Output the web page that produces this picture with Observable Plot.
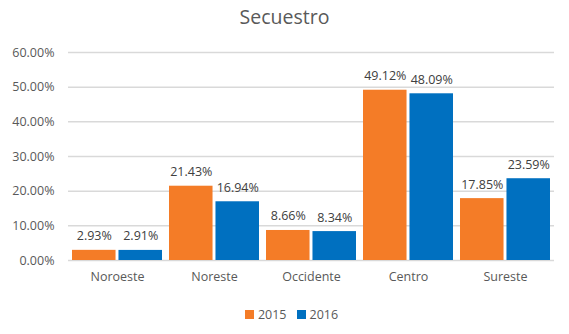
<!DOCTYPE html>
<html>
<head>
<meta charset="utf-8">
<script src="https://cdn.jsdelivr.net/npm/d3@7"></script>
<script src="https://cdn.jsdelivr.net/npm/@observablehq/plot@0.6"></script>
<style>
  body { margin: 0; background: #fff; font-family: "Open Sans", sans-serif; color: #595959; }
  #wrap { width: 569px; height: 334px; position: relative; }
  #title { height: 34px; line-height: 34px; text-align: center; font-size: 19.5px; color: #595959; }
  #legend { display: flex; justify-content: center; align-items: center; gap: 10px; font-size: 12.5px; color: #595959; height: 36px; padding-left: 14px; }
  .sw { display: inline-block; width: 9px; height: 9px; margin-right: 4px; }
</style>
</head>
<body>
<div id="wrap">
  <div id="title">Secuestro</div>
  <div id="chart"></div>
  <div id="legend"></div>
</div>
<script>
const regions = ["Noroeste", "Noreste", "Occidente", "Centro", "Sureste"];
const years = ["2015", "2016"];
const values2015 = [2.93, 21.43, 8.66, 49.12, 17.85];
const values2016 = [2.91, 16.94, 8.34, 48.09, 23.59];
const yTicks = [0, 10, 20, 30, 40, 50, 60];
const colors = ["#F47C27", "#0070C0"];

const data = [];
regions.forEach((r, i) => {
  data.push({region: r, year: years[0], value: values2015[i]});
  data.push({region: r, year: years[1], value: values2016[i]});
});
const d15 = data.filter(d => d.year === years[0]);
const d16 = data.filter(d => d.year === years[1]);
const fmt = v => v.toFixed(2) + "%";

const width = 569, height = 262;
const marginLeft = 68, marginRight = 15, paddingInner = 0.07, paddingOuter = 0.02;
const step = (width - marginLeft - marginRight) / (regions.length - paddingInner + 2 * paddingOuter);
const band = step * (1 - paddingInner);
const half = band / 2;

const chart = Plot.plot({
  width, height,
  marginLeft, marginRight, marginTop: 18, marginBottom: 36,
  style: {fontFamily: "Open Sans, sans-serif", fontSize: "12.5px", color: "#595959", background: "#fff"},
  x: {domain: regions, paddingInner, paddingOuter, align: 0.5, label: null, tickSize: 0, tickPadding: 12},
  y: {domain: [0, 60], ticks: yTicks, tickFormat: fmt, label: null, tickSize: 0, tickPadding: 14},
  marks: [
    Plot.gridY(yTicks, {stroke: "#D9D9D9", strokeOpacity: 1, strokeWidth: 1.5}),
    Plot.barY(d15, {x: "region", y: "value", fill: colors[0], insetRight: half + 1}),
    Plot.barY(d16, {x: "region", y: "value", fill: colors[1], insetLeft: half + 1}),
    Plot.text(d15, {x: "region", y: "value", text: d => fmt(d.value), dx: -half / 2 - 0.5, dy: -10, lineAnchor: "bottom", fill: "#404040", fontSize: 12.5}),
    Plot.text(d16, {x: "region", y: "value", text: d => fmt(d.value), dx: half / 2 + 0.5, dy: -10, lineAnchor: "bottom", fill: "#404040", fontSize: 12.5})
  ]
});
document.getElementById("chart").appendChild(chart);

const legend = document.getElementById("legend");
years.forEach((y, i) => {
  const item = document.createElement("span");
  item.innerHTML = `<span class="sw" style="background:${colors[i]}"></span>${y}`;
  legend.appendChild(item);
});
</script>
</body>
</html>
